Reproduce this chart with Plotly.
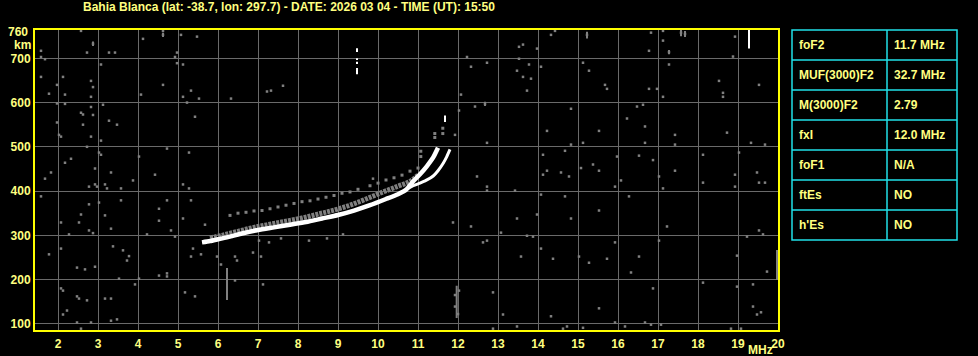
import plotly.graph_objects as go

# ---------------- data ----------------
title_text = "Bahia Blanca (lat: -38.7, lon: 297.7) - DATE: 2026 03 04 - TIME (UT): 15:50"

x_ticks = list(range(2, 21))
y_ticks = [100, 200, 300, 400, 500, 600, 700]

# main O-mode trace (MHz, km)
o_f = [5.6, 5.8, 6.0, 6.3, 6.6, 7.0, 7.4, 7.8, 8.2, 8.6, 9.0, 9.4, 9.8, 10.2, 10.5, 10.7, 10.88, 11.05, 11.22, 11.38, 11.5]
o_h = [284, 287, 291, 297, 304, 312, 318, 324, 330, 338, 346, 356, 368, 382, 393, 403, 422, 438, 456, 476, 498]
# X-mode branch
x_f = [10.6, 10.88, 11.05, 11.2, 11.38, 11.5, 11.63, 11.72, 11.8]
x_h = [398, 412, 418, 424, 434, 446, 463, 478, 494]
# diffuse grey echo band just above trace
e_f = [5.8, 6.1, 6.5, 6.9, 7.3, 7.7, 8.1, 8.5, 8.9, 9.3, 9.7, 10.1, 10.5, 10.8, 11.0]
e_h = [294, 300, 309, 318, 325, 332, 339, 348, 357, 368, 382, 397, 411, 422, 436]
# faint upper echo dashes
u_f = [6.3, 6.5, 6.7, 6.9, 7.1, 7.3, 7.5, 7.7, 7.9, 8.1, 8.3, 8.5, 8.7, 8.9, 9.1, 9.3, 9.5, 9.8, 10.0, 10.2, 10.4, 10.6, 10.8, 11.0, 11.42, 11.42, 11.62, 11.62, 11.07, 11.07]
u_h = [345, 350, 352, 355, 356, 360, 364, 368, 372, 376, 378, 382, 386, 390, 395, 398, 404, 412, 418, 425, 430, 436, 445, 452, 530, 521, 542, 530, 490, 478]

# scattered noise dots (MHz, km)
noise_f = [2.575, 2.875, 1.575, 1.575, 1.675, 2.725, 3.275, 3.425, 4.125, 4.625, 4.625, 5.075, 5.475, 4.975, 4.925, 4.975,
           5.125, 3.075, 1.575, 2.125, 2.825, 1.975, 2.875, 1.775, 2.175, 2.825, 2.175, 1.975, 3.125, 2.825, 2.575, 2.625,
           2.875, 3.275, 3.475, 2.625, 1.975, 2.025, 2.075, 2.825, 3.075, 2.725, 3.025, 3.075, 2.325, 2.175, 2.925, 3.325,
           1.825, 1.675, 4.425, 4.025, 4.725, 5.275, 4.625, 4.075, 5.325, 5.125, 5.525, 5.225, 5.425, 6.325, 7.225, 7.325,
           7.625, 9.875,
           14.425, 14.325, 15.225, 16.825, 17.125, 17.575, 17.675, 18.925, 17.125, 13.625, 13.525, 13.975, 16.775, 17.275,
           18.875, 12.225, 13.525, 12.725, 12.325, 13.775, 14.075, 15.125, 17.275, 13.475, 15.275, 13.625, 13.825, 18.525,
           15.675, 15.725, 16.775, 16.975, 19.525, 13.725, 12.075, 18.625, 18.625, 17.125, 12.675, 12.425, 12.025, 14.825,
           16.475, 16.625, 16.225, 16.675, 14.225, 15.525, 18.725, 17.425, 11.925, 12.725, 14.825, 15.125, 16.675, 17.425,
           19.325, 19.675, 14.125, 14.675, 15.975, 16.525, 16.875, 18.125, 19.025, 15.375, 15.075, 15.525, 14.225, 14.125,
           14.575, 14.775, 17.425, 18.925, 19.475, 12.475, 17.025,
           1.575, 2.775, 2.925, 2.975, 3.175, 3.225, 3.575, 3.875, 5.125, 5.275, 2.775, 3.025, 3.575, 4.725, 5.325, 4.525,
           2.575, 3.175, 2.075, 2.525, 4.525, 5.125, 5.675, 3.325, 2.775, 2.875, 2.275, 4.225, 4.825, 4.925, 2.075, 3.375,
           3.625, 1.775, 3.775, 3.725, 5.375, 5.575, 5.325, 5.975, 6.425, 6.475, 6.875, 7.075, 6.075, 2.475, 2.675, 2.925,
           4.525, 4.725, 4.725, 3.525, 4.025, 3.925, 2.075, 2.125, 2.475, 2.525, 2.725, 3.175, 3.325, 5.175, 5.425, 6.425,
           7.125, 2.225, 2.125, 3.325, 3.475, 2.475, 2.825, 2.575, 7.025, 7.275, 7.575, 8.275, 8.725, 9.125,
           12.725, 12.725, 13.425, 14.075, 14.675, 15.925, 16.075, 16.275, 17.125, 18.125, 18.925, 19.525, 19.675, 15.525,
           13.975, 13.475, 14.825, 11.875, 12.325, 17.225, 13.075, 13.725, 13.875, 12.625, 12.725, 15.925, 17.025, 19.225,
           19.525, 19.625, 14.075, 13.575, 14.375, 15.025, 15.275, 15.725, 16.525, 16.325, 18.975, 19.725, 18.125, 18.975,
           19.375, 16.875, 12.875, 12.025, 19.375, 19.575, 19.475, 15.525, 14.325, 13.125, 15.925, 16.675, 16.825, 17.075,
           14.725, 14.625, 13.475, 12.875, 16.175, 18.825, 19.075, 15.125, 11.925, 11.925, 12.0]
noise_h = [762, 733, 717, 703, 698, 713, 713, 713, 744, 753, 762, 753, 749, 713, 703, 689,
           686, 686, 658, 658, 649, 640, 635, 620, 618, 613, 597, 598, 595, 590, 577, 573,
           572, 559, 550, 550, 555, 527, 523, 523, 514, 500, 487, 482, 473, 464, 451, 442,
           442, 428, 437, 478, 496, 487, 640, 618, 627, 613, 609, 600, 568, 609, 625, 627,
           638, 428,
           762, 753, 753, 758, 762, 758, 755, 749, 740, 731, 726, 722, 717, 714,
           704, 703, 699, 690, 681, 686, 681, 690, 686, 672, 672, 658, 654, 649,
           640, 631, 631, 631, 640, 627, 618, 622, 613, 613, 597, 591, 582, 586,
           591, 595, 564, 546, 536, 536, 532, 527, 527, 509, 505, 509, 509, 505,
           509, 505, 482, 491, 478, 480, 470, 482, 487, 460, 452, 446, 446, 437,
           442, 433, 446, 437, 442, 433, 433,
           388, 410, 415, 410, 415, 406, 406, 424, 415, 406, 370, 374, 379, 379, 379, 360,
           347, 345, 329, 329, 333, 338, 324, 315, 311, 305, 302, 302, 311, 297, 270, 275,
           266, 257, 253, 243, 270, 257, 252, 252, 252, 243, 261, 252, 234, 227, 223, 229,
           209, 214, 207, 202, 202, 189, 180, 175, 162, 157, 153, 157, 157, 171, 162, 198,
           189, 130, 121, 107, 110, 103, 103, 89, 288, 284, 293, 288, 293, 302,
           410, 401, 401, 392, 388, 410, 424, 388, 406, 419, 410, 419, 419, 356,
           347, 338, 338, 329, 320, 320, 306, 299, 297, 284, 288, 284, 288, 297,
           311, 302, 270, 252, 247, 252, 238, 247, 252, 216, 254, 218, 193, 184,
           189, 180, 171, 175, 139, 126, 121, 135, 117, 121, 103, 103, 98, 98,
           94, 89, 94, 89, 94, 89, 89, 91, 165, 139, 122]

# vertical streaks: frequency, lower km, upper km
streak_f = [6.225, 11.967, 19.975, 2.875, 4.625, 15.225, 17.575, 17.675, 17.275, 12.675]
streak_lo = [154, 113, 199, 728, 748, 745, 750, 748, 709, 592]
streak_hi = [226, 186, 267, 738, 758, 760, 764, 762, 719, 602]
white_streak_f = [9.475, 9.475, 9.475, 9.475, 19.275, 11.675]
white_streak_lo = [714, 696, 687, 664, 722, 556]
white_streak_hi = [723, 700, 692, 678, 765, 571]

table_labels = ["foF2", "MUF(3000)F2", "M(3000)F2", "fxI", "foF1", "ftEs", "h'Es"]
table_values = ["11.7 MHz", "32.7 MHz", "2.79", "12.0 MHz", "N/A", "NO", "NO"]

# ---------------- style ----------------
YEL = "#FFFF80"
BORDER = "#FFFF00"
GRID = "#6a6a6a"
DOT = "#808080"
CYAN = "#20E0E8"
FONT = "Liberation Sans"

fig = go.Figure()

for f, lo, hi in zip(streak_f, streak_lo, streak_hi):
    fig.add_trace(go.Scatter(x=[f, f], y=[lo, hi], mode="lines",
                             line=dict(color=DOT, width=2), hoverinfo="skip", showlegend=False))

fig.add_trace(go.Scatter(x=noise_f, y=noise_h, mode="markers",
                         marker=dict(symbol="square", size=2.5, color=DOT, line=dict(width=0)),
                         hoverinfo="skip", showlegend=False))

fig.add_trace(go.Scatter(x=e_f, y=e_h, mode="lines",
                         line=dict(color=DOT, width=5, shape="spline", dash="3px,1px"),
                         hoverinfo="skip", showlegend=False))
fig.add_trace(go.Scatter(x=u_f, y=u_h, mode="markers",
                         marker=dict(symbol="square", size=3, color=DOT, line=dict(width=0)),
                         hoverinfo="skip", showlegend=False))

fig.add_trace(go.Scatter(x=o_f, y=o_h, mode="lines",
                         line=dict(color="white", width=4.5, shape="spline", smoothing=0.6),
                         hoverinfo="skip", showlegend=False))
fig.add_trace(go.Scatter(x=x_f, y=x_h, mode="lines",
                         line=dict(color="white", width=3, shape="spline", smoothing=0.6),
                         hoverinfo="skip", showlegend=False))

for f, lo, hi in zip(white_streak_f, white_streak_lo, white_streak_hi):
    fig.add_trace(go.Scatter(x=[f, f], y=[lo, hi], mode="lines",
                             line=dict(color="white", width=2), hoverinfo="skip", showlegend=False))

tickfont = dict(family=FONT, size=12, color=YEL, weight="bold")
fig.update_layout(
    width=978, height=356,
    margin=dict(l=35, r=200, t=30, b=26),
    paper_bgcolor="black", plot_bgcolor="black",
    font=dict(family=FONT, color=YEL, size=12),
    showlegend=False,
    xaxis=dict(range=[1.425, 20], tickvals=x_ticks, ticktext=[str(v) for v in x_ticks],
               showgrid=True, gridcolor=GRID, gridwidth=1, zeroline=False,
               showline=True, linecolor=BORDER, linewidth=2, mirror=True, ticks="",
               ticklabelstandoff=2, automargin=False, tickfont=tickfont),
    yaxis=dict(range=[86, 764], tickvals=y_ticks, ticktext=[str(v) for v in y_ticks],
               showgrid=True, gridcolor=GRID, gridwidth=1, zeroline=False,
               showline=True, linecolor=BORDER, linewidth=2, mirror=True, ticks="",
               automargin=False, tickfont=tickfont),
)

annots = [
    dict(text=title_text, xref="paper", yref="paper", x=(289 - 35) / 743, y=1 + (30 - 7) / 300,
         xanchor="center", yanchor="middle", showarrow=False,
         font=dict(family=FONT, size=12, color=YEL, weight="bold")),
    dict(text="760", xref="paper", yref="y", x=-5 / 743, y=760, xanchor="right", yanchor="middle",
         showarrow=False, font=tickfont),
    dict(text="km", xref="paper", yref="paper", x=-13 / 743, y=(330 - 45) / 300, xanchor="center",
         yanchor="middle", showarrow=False, font=tickfont),
    dict(text="MHz", xref="paper", yref="paper", x=(760 - 35) / 743, y=-(350 - 330) / 300, xanchor="center",
         yanchor="middle", showarrow=False, font=tickfont),
]

# table
tl, tr, td = 792, 957, 887
ttop, rowh = 30, 30
shapes = []
def px_x(p):
    return (p - 35) / 743
def px_y(p):
    return (330 - p) / 300
n = len(table_labels)
shapes.append(dict(type="rect", xref="paper", yref="paper", x0=px_x(tl), x1=px_x(tr),
                   y0=px_y(ttop + n * rowh), y1=px_y(ttop), line=dict(color=CYAN, width=1.5)))
shapes.append(dict(type="line", xref="paper", yref="paper", x0=px_x(td), x1=px_x(td),
                   y0=px_y(ttop + n * rowh), y1=px_y(ttop), line=dict(color=CYAN, width=1.5)))
for i in range(1, n):
    shapes.append(dict(type="line", xref="paper", yref="paper", x0=px_x(tl), x1=px_x(tr),
                       y0=px_y(ttop + i * rowh), y1=px_y(ttop + i * rowh), line=dict(color=CYAN, width=1.5)))
for i, (lab, val) in enumerate(zip(table_labels, table_values)):
    yc = px_y(ttop + i * rowh + rowh / 2)
    annots.append(dict(text=lab, xref="paper", yref="paper", x=px_x(tl + 5), y=yc, xanchor="left",
                       yanchor="middle", showarrow=False, font=tickfont))
    annots.append(dict(text=val, xref="paper", yref="paper", x=px_x(td + 5), y=yc, xanchor="left",
                       yanchor="middle", showarrow=False, font=tickfont))

fig.update_layout(annotations=annots, shapes=shapes)
fig.write_html("out.html")
